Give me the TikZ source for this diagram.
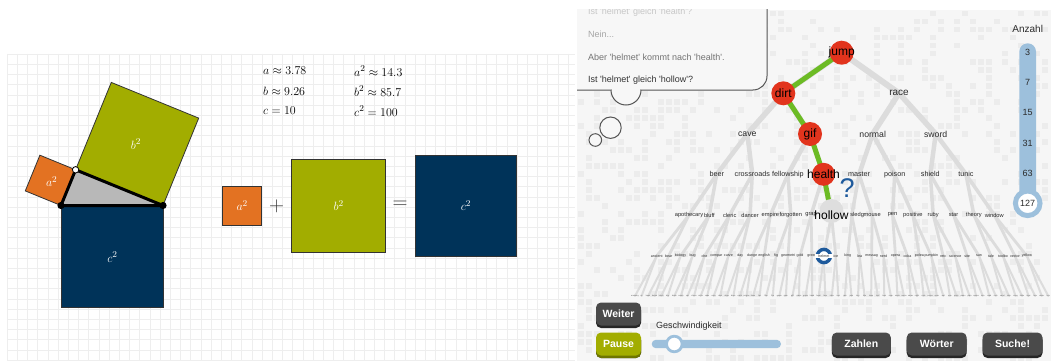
\documentclass[tikz,border=0pt]{standalone}
\usepackage{fontspec}
\newfontfamily\uifont{Liberation Sans}
\usetikzlibrary{shadows}
\definecolor{tumorange}{HTML}{E37222}
\definecolor{tumgreen}{HTML}{A2AD00}
\definecolor{tumblue}{HTML}{003359}
\definecolor{gridgray}{HTML}{EEEEEE}
\definecolor{tribg}{HTML}{B8B8B8}
\definecolor{panelbg}{HTML}{F6F6F6}
\definecolor{patgray}{HTML}{ECECEC}
\definecolor{edgegray}{HTML}{DCDCDC}
\definecolor{pathgreen}{HTML}{6CBB24}
\definecolor{nodered}{HTML}{E2341D}
\definecolor{qblue}{HTML}{1E5A9C}
\definecolor{sliderblue}{HTML}{9DC0DC}
\definecolor{btngray}{HTML}{4A4A4A}
\definecolor{btnshadow}{HTML}{262626}
\definecolor{pauseshadow}{HTML}{6E7600}
\definecolor{bubblebg}{HTML}{F7F7F7}
\definecolor{bubbleline}{HTML}{555555}
\definecolor{txtdark}{HTML}{2A2A2A}
\newcommand{\sq}{\textquotesingle}
\begin{document}
\begin{tikzpicture}[x=1pt,y=-1pt,
  sqbox/.style={draw=black!80, line width=0.8},
  sqlabel/.style={text=white, inner sep=0, font=\fontsize{13}{15}\selectfont},
  tbl/.style={anchor=west, inner sep=0, font=\fontsize{12.8}{15}\selectfont},
  eqbox/.style={draw=black!80, line width=0.8, text=white, inner sep=0, font=\fontsize{13}{15}\selectfont},
  opsym/.style={text=black!80, inner sep=0, font=\fontsize{21}{24}\selectfont},
  bubtxt/.style={anchor=west, inner sep=0, font=\uifont\fontsize{9}{11}\selectfont},
  gedge/.style={draw=edgegray, line width=#1, line cap=round},
  act/.style={inner sep=0, text=black, font=\uifont\fontsize{12}{14}\selectfont},
  w2/.style={inner sep=0, text=txtdark, font=\uifont\fontsize{10}{12}\selectfont},
  w3/.style={inner sep=0, text=txtdark, font=\uifont\fontsize{8.7}{10}\selectfont},
  w4/.style={inner sep=0, text=txtdark, font=\uifont\fontsize{7.2}{9}\selectfont},
  w5/.style={inner sep=0, text=txtdark, font=\uifont\fontsize{5.7}{7}\selectfont},
  w6/.style={inner sep=0, text=txtdark, font=\uifont\fontsize{3.6}{4}\selectfont},
  w7/.style={inner sep=0, text=txtdark!75, font=\uifont\fontsize{2}{2.5}\selectfont},
  num/.style={inner sep=0, text=txtdark, font=\uifont\fontsize{9}{11}\selectfont},
  btn/.style={fill=btngray, text=white, rounded corners=5, minimum height=23, inner sep=0,
    font=\uifont\bfseries\fontsize{10.5}{12}\selectfont,
    drop shadow={shadow xshift=0pt, shadow yshift=-2.5pt, opacity=1, fill=btnshadow}}
]
\useasboundingbox (0,0) rectangle (1051,361);
\fill[white] (0,0) rectangle (1051,361);

% ---------- left panel: grid ----------
\foreach \i in {0,...,55} \draw[gridgray, line width=0.5] ({7+\i*10.2},54) -- ({7+\i*10.2},361);
\foreach \j in {0,...,30} \draw[gridgray, line width=0.5] (7,{54+\j*10.2}) -- (575,{54+\j*10.2});

% ---------- Pythagoras figure ----------
\coordinate (A) at (61,205.5);
\coordinate (B) at (163,205.5);
\coordinate (C) at (75.6,169.8);
\coordinate (A3) at (39.9,155.2);
\coordinate (A4) at (25.3,190.9);
\coordinate (B3) at (111.3,82.4);
\coordinate (B4) at (198.7,118.1);
\coordinate (C3) at (163,307);
\coordinate (C4) at (61,307);
\filldraw[fill=tumorange, sqbox] (A) -- (C) -- (A3) -- (A4) -- cycle;
\filldraw[fill=tumgreen, sqbox] (C) -- (B3) -- (B4) -- (B) -- cycle;
\filldraw[fill=tumblue, sqbox] (A) -- (B) -- (C3) -- (C4) -- cycle;
\fill[tribg] (A) -- (B) -- (C) -- cycle;
\draw[line width=3, line join=round] (A) -- (C) -- (B) -- cycle;
\fill (A) circle (3.6);
\fill (B) circle (3.6);
\filldraw[fill=white, draw=black, line width=0.8] (C) circle (3.2);
\node[sqlabel] (la) at (51.7,181.5) {$a^2$};
\node[sqlabel] (lb) at (136,144) {$b^2$};
\node[sqlabel] (lc) at (112.5,257) {$c^2$};

% ---------- values ----------
\node[tbl] (ta) at (263,71) {$a\approx 3.78$};
\node[tbl] (tb) at (263,91) {$b\approx 9.26$};
\node[tbl] (tc) at (263,111) {$c=10$};
\node[tbl] (ta2) at (354,71) {$a^2\approx 14.3$};
\node[tbl] (tb2) at (354,91) {$b^2\approx 85.7$};
\node[tbl] (tc2) at (354,111) {$c^2=100$};

% ---------- equation ----------
\node[eqbox, fill=tumorange, minimum width=39, minimum height=38.5] (ea) at (242.2,205.8) {$a^2$};
\node[opsym] (plus) at (276.5,206) {$+$};
\node[eqbox, fill=tumgreen, minimum width=94, minimum height=93.7] (eb) at (338.7,205.9) {$b^2$};
\node[opsym] (eq) at (400,205) {$=$};
\node[eqbox, fill=tumblue, minimum width=101.7, minimum height=101.7] (ec) at (465.9,205.9) {$c^2$};

% ---------- right panel ----------
\begin{scope}
\clip (577,10) rectangle (1051,361);
\fill[panelbg] (577,10) rectangle (1051,361);
\pgfmathsetseed{11}
\foreach \i in {0,...,58}{\foreach \j in {0,...,43}{
  \pgfmathsetmacro\rr{rnd}
  \ifdim\rr pt<0.32pt \fill[patgray] ({578+\i*8},{11+\j*8}) rectangle +(5.5,5.5);\fi
}}

% speech bubble
\filldraw[fill=bubblebg, draw=bubbleline, line width=1, rounded corners=14] (560,-20) rectangle (767,90);
\filldraw[fill=bubblebg, draw=bubbleline, line width=1] (611,90) arc[start angle=180, end angle=0, radius=15];
\fill[bubblebg] (611.6,87) rectangle (640.4,90.6);
\filldraw[fill=bubblebg, draw=bubbleline, line width=1] (610.5,127.7) circle (10.7);
\filldraw[fill=bubblebg, draw=bubbleline, line width=1] (595.3,140) circle (6.3);
\node[bubtxt, text=black!22] (q1) at (588,12) {Ist \sq helmet\sq{} gleich \sq health\sq?};
\node[bubtxt, text=black!35] (q2) at (588,34.5) {Nein...};
\node[bubtxt, text=black!55] (q3) at (588,57) {Aber \sq helmet\sq{} kommt nach \sq health\sq.};
\node[bubtxt, text=black!80] (q4) at (588,80) {Ist \sq helmet\sq{} gleich \sq hollow\sq?};

% tree coordinates
\coordinate (c1) at (841.7,52.7);
\coordinate (c2-0) at (783.3,93.3);
\coordinate (c2-1) at (899,93.3);
\foreach \k/\x in {0/747.3,1/810,2/872.7,3/935.7} \coordinate (c3-\k) at (\x,134);
\foreach \k in {0,...,7} \coordinate (c4-\k) at ({716.7+\k*35.6},174.3);
\foreach \k in {0,...,15} \coordinate (c5-\k) at ({689+\k*20.35},215);
\foreach \k in {0,...,31} \coordinate (c6-\k) at ({656.7+\k*11.94},256);
\foreach \k in {0,...,63} \coordinate (c7-\k) at ({635+\k*6.56},296);

% gray edges
\foreach \k in {0,...,63}{\pgfmathtruncatemacro\p{floor(\k/2)}\draw[gedge=2] (c6-\p) -- (c7-\k);}
\foreach \k in {0,...,31}{\pgfmathtruncatemacro\p{floor(\k/2)}\draw[gedge=2.8] (c5-\p) -- (c6-\k);}
\foreach \k in {0,...,15}{\pgfmathtruncatemacro\p{floor(\k/2)}\draw[gedge=3.5] (c4-\p) -- (c5-\k);}
\foreach \k in {0,...,7}{\pgfmathtruncatemacro\p{floor(\k/2)}\draw[gedge=4.5] (c3-\p) -- (c4-\k);}
\foreach \k in {0,...,3}{\pgfmathtruncatemacro\p{floor(\k/2)}\draw[gedge=5.5] (c2-\p) -- (c3-\k);}
\draw[gedge=6] (c1) -- (c2-0);
\draw[gedge=6] (c1) -- (c2-1);

% search path
\draw[pathgreen, line width=5, line cap=round, line join=round] (c1) -- (c2-0) -- (c3-1) -- (c4-3) -- (c5-7);
\fill[nodered] (c1) circle (12);
\fill[nodered] (c2-0) circle (12);
\fill[nodered] (c3-1) circle (12);
\fill[nodered] (c4-3) circle (11.5);
\fill[black!13] ([yshift=4]c5-7) circle (12);

% labels
\node[act] (jump) at (c1) {jump};
\node[act] (dirt) at (c2-0) {dirt};
\node[w2] (race) at (c2-1) {race};
\node[w3] (cave) at (c3-0) {cave};
\node[act] (gif) at (c3-1) {gif};
\node[w3] (normal) at (c3-2) {normal};
\node[w3] (sword) at (c3-3) {sword};
\foreach \w [count=\k from 0] in {beer,crossroads,fellowship,health,master,poison,shield,tunic}{
  \ifnum\k=3\relax\else\node[w4] (n4-\k) at (c4-\k) {\w};\fi}
\node[act] (health) at (c4-3) {health};
\foreach \w [count=\k from 0] in {apothecary,bluff,cleric,dancer,empire,forgotten,grap,hollow,sledg,mouse,pen,positive,ruby,star,theory,window}{
  \ifnum\k=7\relax\else\ifnum\k=8\relax\else\node[w5] (n5-\k) at (c5-\k) {\w};\fi\fi}
\node[act] (hollow) at (c5-7) {hollow};
\node[w5, anchor=west] (n5-8) at ([xshift=1.5]hollow.east) {sledg};
\foreach \w [count=\k from 0] in {ancient,bear,biology,bug,che,compar,curve,day,dunge,english,fig,geometri,gold,green,helmet,ice,king,lea,messag,nerd,opera,ocka,polea,pumpkin,retc,science,site,sun,tale,toolbo,vector,yellow}{
  \ifnum\k=14\relax\else\node[w6] (n6-\k) at (c6-\k) {\w};\fi}
\draw[qblue, line width=3.4, fill=white] (c6-14) circle (6.6);
\fill[white] ([xshift=-8.8,yshift=-1.9]c6-14) rectangle ([xshift=8.8,yshift=1.9]c6-14);
\node[w6] (n6-14) at (c6-14) {helmet};
\foreach \w [count=\k from 0] in {anatomy,ar,bean,beard,black,boy,brain,candy,cat,chess,circle,code,curry,dark,deep,dove,earth,engine,fame,fan,film,fire,game,gem,gift,glass,grass,hand,heart,hero,idea,iron,jam,joke,key,kite,lamp,leaf,lens,map,mask,moon,name,night,note,ocean,open,owl,pan,party,piano,plan,queen,rain,road,rock,sand,ship,song,table,tiger,tree,water,zoo}{
  \node[w7] (n7-\k) at (c7-\k) {\w};}
\node[inner sep=0, text=qblue, font=\uifont\fontsize{27}{30}\selectfont] (qmark) at (847,188.5) {?};
\end{scope}

% ---------- Anzahl ----------
\node[inner sep=0, text=txtdark, font=\uifont\fontsize{10}{12}\selectfont] (anz) at (1027.7,29.3) {Anzahl};
\fill[sliderblue, rounded corners=8.3] (1019.3,43.3) rectangle (1036,216.7);
\draw[sliderblue, line width=5, fill=white] (1027.7,203.3) circle (12.3);
\node[num] (k3) at (1027.7,52.7) {3};
\node[num] (k7) at (1027.7,82.3) {7};
\node[num] (k15) at (1027.7,112.7) {15};
\node[num] (k31) at (1027.7,143) {31};
\node[num] (k63) at (1027.7,173.3) {63};
\node[num] (k127) at (1027.7,203.3) {127};

% ---------- controls ----------
\node[btn, minimum width=45] (weiter) at (618.5,314) {Weiter};
\node[btn, minimum width=45, fill=tumgreen, drop shadow={shadow xshift=0pt, shadow yshift=-2.5pt, opacity=1, fill=pauseshadow}] (pause) at (618.5,344) {Pause};
\node[anchor=west, inner sep=0, text=txtdark, font=\uifont\fontsize{9}{11}\selectfont] (speed) at (656,325.7) {Geschwindigkeit};
\fill[sliderblue, rounded corners=4.2] (651.7,339.8) rectangle (781,348.2);
\draw[sliderblue, line width=2.8, fill=white] (674.3,344) circle (7.8);
\node[btn, minimum width=59] (zahlen) at (861.3,344) {Zahlen};
\node[btn, minimum width=60] (woerter) at (936.7,344) {Wörter};
\node[btn, minimum width=60] (suche) at (1012.5,344) {Suche!};
\end{tikzpicture}
\end{document}
